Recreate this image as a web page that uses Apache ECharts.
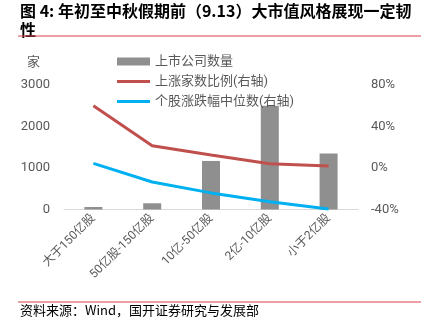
<!DOCTYPE html>
<html><head><meta charset="utf-8">
<script src="https://cdn.jsdelivr.net/npm/echarts@6/dist/echarts.min.js"></script>
<style>html,body{margin:0;padding:0;background:#fff}#c{width:421px;height:325px}</style>
</head><body><div id="c"></div>
<script>
const categories = ['大于150亿股', '50亿股-150亿股', '10亿-50亿股', '2亿-10亿股', '小于2亿股'];
const companyCount = [60, 150, 1170, 2500, 1350];
const riseRatio = [60, 21.5, 12.5, 4, 2];
const medianChange = [4.5, -13.5, -24, -32.5, -39.5];
const leftTicks = [0, 3000, 1000];
const rightTicks = [-40, 80, 40];

const font = 'Roboto, "Noto Sans CJK SC", sans-serif';
const lineIcon = 'path://M0,0H33V3H0Z';
const chart = echarts.init(document.getElementById('c'));
chart.setOption({
  animation: false,
  textStyle: { fontFamily: font },
  graphic: [
    { type: 'text', left: 20, top: 1, style: { text: '图 4: 年初至中秋假期前（9.13）大市值风格展现一定韧\n性', font: 'bold 16px "Noto Sans CJK SC", sans-serif', fill: '#000', lineHeight: 19 } },
    { type: 'line', shape: { x1: 18, y1: 36, x2: 421, y2: 36 }, style: { stroke: '#d9414a', lineWidth: 1 } },
    { type: 'text', left: 27, top: 55, style: { text: '家', font: '13px "Noto Sans CJK SC", sans-serif', fill: '#595959' } },
    { type: 'line', shape: { x1: 18, y1: 302, x2: 421, y2: 302 }, style: { stroke: '#d9414a', lineWidth: 1 } },
    { type: 'text', left: 20, top: 304, style: { text: '资料来源：Wind，国开证券研究与发展部', font: '13px "Noto Sans CJK SC", serif', fill: '#000' } }
  ],
  legend: {
    orient: 'vertical', left: 112, top: 50, itemWidth: 33, itemHeight: 8, itemGap: 7,
    symbolKeepAspect: true,
    textStyle: { fontSize: 13, color: '#595959', fontFamily: font },
    data: [{ name: '上市公司数量', icon: 'rect' }, { name: '上涨家数比例(右轴)', icon: lineIcon }, { name: '个股涨跌幅中位数(右轴)', icon: lineIcon }]
  },
  grid: { left: 64, right: 63, top: 85, bottom: 115.5, containLabel: false },
  xAxis: {
    type: 'category', data: categories,
    axisLine: { lineStyle: { color: '#d9d9d9' } },
    axisTick: { show: false },
    axisLabel: { rotate: 45, fontSize: 12, color: '#595959', interval: 0, margin: 7 }
  },
  yAxis: [
    { type: 'value', min: leftTicks[0], max: leftTicks[1], interval: leftTicks[2],
      splitLine: { show: false }, axisLine: { show: false }, axisTick: { show: false },
      axisLabel: { fontSize: 13, color: '#595959', margin: 14, formatter: v => String(v) } },
    { type: 'value', min: rightTicks[0], max: rightTicks[1], interval: rightTicks[2],
      splitLine: { show: false }, axisLine: { show: false }, axisTick: { show: false },
      axisLabel: { fontSize: 13, color: '#595959', margin: 13, formatter: '{value}%' } }
  ],
  series: [
    { name: '上市公司数量', type: 'bar', data: companyCount, barWidth: 18, itemStyle: { color: '#8f8f8f' } },
    { name: '上涨家数比例(右轴)', type: 'line', yAxisIndex: 1, data: riseRatio, symbol: 'none', lineStyle: { color: '#c0504d', width: 3 }, itemStyle: { color: '#c0504d' } },
    { name: '个股涨跌幅中位数(右轴)', type: 'line', yAxisIndex: 1, data: medianChange, symbol: 'none', lineStyle: { color: '#00b0f0', width: 3 }, itemStyle: { color: '#00b0f0' } }
  ]
});
</script></body></html>
